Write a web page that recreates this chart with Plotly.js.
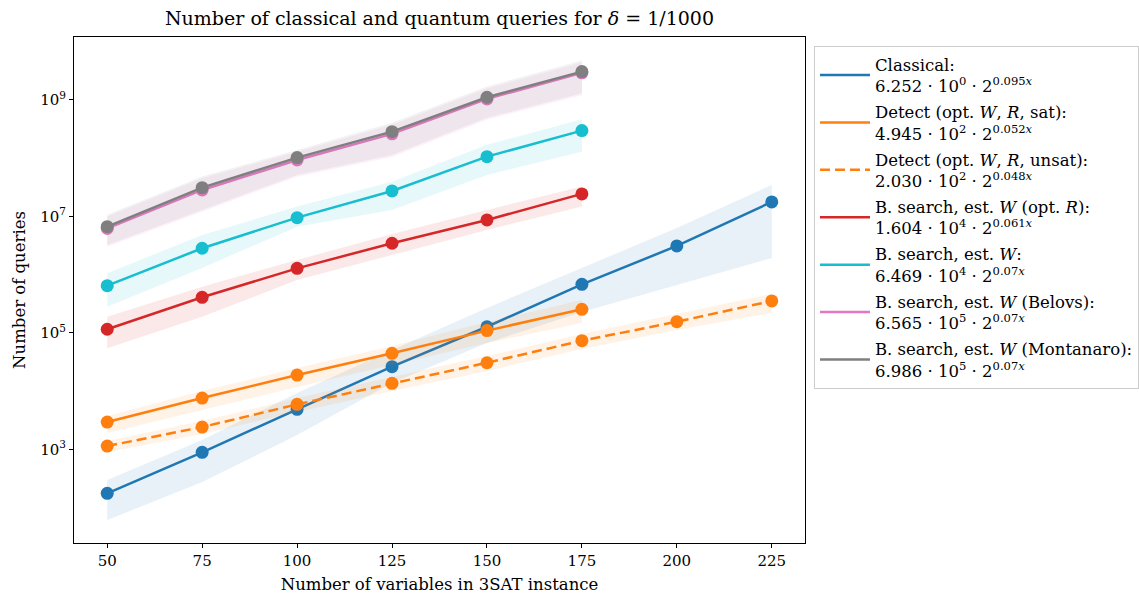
<!DOCTYPE html>
<html>
<head>
<meta charset="utf-8">
<script src="https://cdn.plot.ly/plotly-3.0.1.min.js"></script>
<style>html,body{margin:0;padding:0;background:#fff;}#chart{width:1139px;height:594px;}</style>
</head>
<body>
<div id="chart"></div>
<script>
// ---- data ----
const xFull = [50, 75, 100, 125, 150, 175, 200, 225];
const xShort = [50, 75, 100, 125, 150, 175];

const classical      = [175, 885, 4850, 26200, 127000, 680000, 3100000, 17700000];
const classicalUpper = [296, 1440, 9240, 50600, 267000, 1300000, 6320000, 34700000];
const classicalLower = [60.8, 273, 1750, 13700, 66800, 228000, 662000, 1930000];

const detectSat      = [2930, 7580, 18800, 44400, 109000, 253000];
const detectSatUpper = [3720, 10000, 24800, 59300, 153000, 366000];
const detectSatLower = [1900, 4720, 11700, 28000, 66800, 147000];

const detectUnsat      = [1135, 2405, 5900, 13550, 30600, 73100, 155000, 352000];
const detectUnsatUpper = [1380, 3050, 7590, 17400, 39900, 95300, 210000, 465000];
const detectUnsatLower = [895, 1820, 4350, 10000, 22100, 52700, 112000, 219000];

const bsOptR      = [115000, 407000, 1280000, 3450000, 8670000, 24300000];
const bsOptRUpper = [189000, 620000, 1780000, 4990000, 12900000, 32400000];
const bsOptRLower = [54200, 189000, 807000, 2170000, 5840000, 14700000];

const bsEstW      = [644000, 2830000, 9500000, 27300000, 106000000, 297000000];
const bsEstWUpper = [1050000, 4790000, 14700000, 39400000, 169000000, 466000000];
const bsEstWLower = [281000, 1300000, 6650000, 12900000, 51400000, 129000000];

const belovs      = [6200000, 28400000, 93000000, 261000000, 1040000000, 2910000000];
const belovsUpper = [9900000, 45000000, 128000000, 375000000, 1570000000, 4400000000];
const belovsLower = [3000000, 12000000, 48000000, 105000000, 455000000, 1200000000];

const montanaro      = [6650000, 31100000, 102000000, 285000000, 1110000000, 3060000000];
const montanaroUpper = [10600000, 48100000, 138000000, 403000000, 1690000000, 4730000000];
const montanaroLower = [3230000, 12900000, 51400000, 113000000, 491000000, 1300000000];

const yTickVals = [1e3, 1e5, 1e7, 1e9];
const yTickText = ['10<sup>3</sup>', '10<sup>5</sup>', '10<sup>7</sup>', '10<sup>9</sup>'];
const xTickVals = [50, 75, 100, 125, 150, 175, 200, 225];

const names = [
  'Classical:<br>6.252 · 10<sup>0</sup> · 2<sup>0.095<i>x</i></sup>',
  'Detect (opt. <i>W</i>, <i>R</i>, sat):<br>4.945 · 10<sup>2</sup> · 2<sup>0.052<i>x</i></sup>',
  'Detect (opt. <i>W</i>, <i>R</i>, unsat):<br>2.030 · 10<sup>2</sup> · 2<sup>0.048<i>x</i></sup>',
  'B. search, est. <i>W</i> (opt. <i>R</i>):<br>1.604 · 10<sup>4</sup> · 2<sup>0.061<i>x</i></sup>',
  'B. search, est. <i>W</i>:<br>6.469 · 10<sup>4</sup> · 2<sup>0.07<i>x</i></sup>',
  'B. search, est. <i>W</i> (Belovs):<br>6.565 · 10<sup>5</sup> · 2<sup>0.07<i>x</i></sup>',
  'B. search, est. <i>W</i> (Montanaro):<br>6.986 · 10<sup>5</sup> · 2<sup>0.07<i>x</i></sup>'
];

// ---- build traces ----
const series = [
  {x: xFull,  y: classical,   up: classicalUpper,   lo: classicalLower,   color: '#1f77b4', fill: 'rgba(31,119,180,0.10)', dash: 'solid'},
  {x: xShort, y: detectSat,   up: detectSatUpper,   lo: detectSatLower,   color: '#ff7f0e', fill: 'rgba(255,127,14,0.10)', dash: 'solid'},
  {x: xFull,  y: detectUnsat, up: detectUnsatUpper, lo: detectUnsatLower, color: '#ff7f0e', fill: 'rgba(255,127,14,0.10)', dash: '10px,5px'},
  {x: xShort, y: bsOptR,      up: bsOptRUpper,      lo: bsOptRLower,      color: '#d62728', fill: 'rgba(214,39,40,0.10)', dash: 'solid'},
  {x: xShort, y: bsEstW,      up: bsEstWUpper,      lo: bsEstWLower,      color: '#17becf', fill: 'rgba(23,190,207,0.10)', dash: 'solid'},
  {x: xShort, y: belovs,      up: belovsUpper,      lo: belovsLower,      color: '#e377c2', fill: 'rgba(227,119,194,0.10)', dash: 'solid'},
  {x: xShort, y: montanaro,   up: montanaroUpper,   lo: montanaroLower,   color: '#7f7f7f', fill: 'rgba(127,127,127,0.10)', dash: 'solid'}
];

const traces = [];
series.forEach((s, i) => {
  traces.push({
    x: s.x.concat(s.x.slice().reverse()),
    y: s.up.concat(s.lo.slice().reverse()),
    type: 'scatter', mode: 'lines', fill: 'toself', fillcolor: s.fill,
    line: {width: 0, color: 'rgba(0,0,0,0)'}, hoverinfo: 'skip',
    showlegend: false, legendgroup: 'g' + i
  });
  traces.push({
    x: s.x, y: s.y, type: 'scatter', mode: 'lines+markers',
    line: {color: s.color, width: 2.5, dash: s.dash},
    marker: {color: s.color, size: 13},
    showlegend: false, legendgroup: 'g' + i
  });
  // legend-only entry (line symbol, no marker)
  traces.push({
    x: [null], y: [null], type: 'scatter', mode: 'lines', name: names[i],
    line: {color: s.color, width: 2.5, dash: s.dash},
    showlegend: true, legendgroup: 'g' + i
  });
});

const fam = 'DejaVu Serif, serif';

const layout = {
  width: 1139, height: 594,
  margin: {l: 74, r: 334, t: 37, b: 51, autoexpand: false},
  paper_bgcolor: '#fff', plot_bgcolor: '#fff',
  font: {family: fam, size: 16, color: '#000'},
  title: {text: 'Number of classical and quantum queries for <i>δ</i> = 1/1000',
          x: 0.5, xref: 'paper', y: 1 - 18/594, yanchor: 'middle', font: {family: fam, size: 19}},
  xaxis: {
    range: [41.25, 233.75], tickvals: xTickVals, ticks: 'outside', ticklen: 4, tickwidth: 1,
    tickcolor: '#000', showgrid: false, zeroline: false, showline: true, linecolor: '#000',
    linewidth: 1, mirror: true, tickfont: {family: fam, size: 15},
    title: {text: 'Number of variables in 3SAT instance', standoff: 10, font: {family: fam, size: 16.5}}
  },
  yaxis: {
    type: 'log', range: [1.39, 10.08], tickvals: yTickVals, ticktext: yTickText,
    ticks: 'outside', ticklen: 4, tickwidth: 1, tickcolor: '#000', showgrid: false, zeroline: false,
    showline: true, linecolor: '#000', linewidth: 1, mirror: true, tickfont: {family: fam, size: 15},
    title: {text: 'Number of queries', standoff: 10, font: {family: fam, size: 16.5}}
  },
  legend: {
    x: 1.0123, xanchor: 'left', y: 0.982, yanchor: 'top',
    bordercolor: '#cccccc', borderwidth: 1, bgcolor: '#fff',
    traceorder: 'grouped', tracegroupgap: 1.5, valign: 'middle', itemwidth: 50,
    font: {family: fam, size: 16.5}
  },
  showlegend: true
};

Plotly.newPlot('chart', traces, layout, {staticPlot: true});
</script>
</body>
</html>
